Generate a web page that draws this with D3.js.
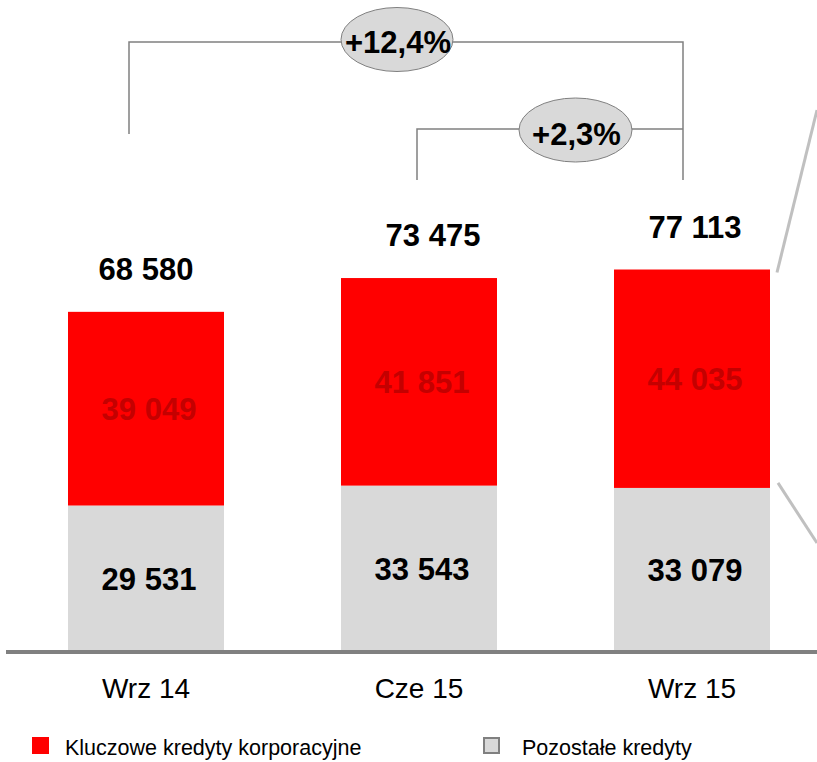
<!DOCTYPE html>
<html><head><meta charset="utf-8">
<script src="https://cdn.jsdelivr.net/npm/d3@7"></script>
<style>html,body{margin:0;padding:0;background:#fff}svg{display:block}</style>
</head><body>
<svg id="c" width="817" height="762"></svg>
<script>
const categories = ["Wrz 14", "Cze 15", "Wrz 15"];
const keyLoans = [39049, 41851, 44035];     // Kluczowe kredyty korporacyjne
const otherLoans = [29531, 33543, 33079];   // Pozostałe kredyty
const totals = [68580, 73475, 77113];
const seriesNames = ["Kluczowe kredyty korporacyjne", "Pozostałe kredyty"];
const growthLabels = ["+12,4%", "+2,3%"];

// label nudges (layout only)
const totalLabelDx = [0, 14, 3];

const fmt = v => d3.format(",")(v).replace(/,/g, " ");
const FONT = "Liberation Sans, Arial, sans-serif";

const svg = d3.select("#c");
const baseY = 652;
const x = d3.scaleBand().domain(categories).range([9.5, 828.5]).paddingInner(0.4286).paddingOuter(0.2143);
const y = d3.scaleLinear().domain([0, 131450]).range([baseY, 0]);

const rows = categories.map((c, i) => ({cat: c, other: otherLoans[i], key: keyLoans[i], total: totals[i]}));
const stack = d3.stack().keys(["other", "key"])(rows);
const colors = {other: "#d9d9d9", key: "#ff0000"};

// bars
svg.append("g").selectAll("g").data(stack).join("g")
  .attr("fill", s => colors[s.key])
  .selectAll("rect").data(s => s).join("rect")
  .attr("x", d => x(d.data.cat))
  .attr("width", x.bandwidth())
  .attr("y", d => y(d[1]))
  .attr("height", d => y(d[0]) - y(d[1]));

// segment labels
stack.forEach(s => {
  svg.append("g").selectAll("text").data(s).join("text")
    .attr("x", d => x(d.data.cat) + x.bandwidth() / 2 + 3)
    .attr("y", d => (y(d[0]) + y(d[1])) / 2 + 11)
    .attr("text-anchor", "middle")
    .attr("font-family", FONT).attr("font-weight", "bold").attr("font-size", 31)
    .attr("fill", s.key === "key" ? "#c40000" : "#000")
    .text(d => fmt(d.data[s.key]));
});

// totals
svg.append("g").selectAll("text").data(rows).join("text")
  .attr("x", (d, i) => x(d.cat) + x.bandwidth() / 2 + totalLabelDx[i])
  .attr("y", (d, i) => y(stack[1][i][1]) - 32)
  .attr("text-anchor", "middle")
  .attr("font-family", FONT).attr("font-weight", "bold").attr("font-size", 31)
  .attr("fill", "#000")
  .text(d => fmt(d.total));

// axis line
svg.append("line").attr("x1", 6).attr("x2", 817).attr("y1", baseY).attr("y2", baseY)
  .attr("stroke", "#808080").attr("stroke-width", 4);

// axis labels
const axis = svg.append("g").attr("transform", `translate(0,${baseY})`)
  .call(d3.axisBottom(x).tickSize(0).tickPadding(0));
axis.select(".domain").remove();
axis.selectAll("text").attr("font-family", FONT).attr("font-size", 28).attr("fill", "#000")
  .attr("dy", null).attr("y", 46);

// brackets
const cx = c => x(c) + x.bandwidth() / 2;
const gStroke = "#808080";
const bl = cx("Wrz 14") - 17, br = cx("Wrz 15") - 9, sl = cx("Cze 15") - 2;
svg.append("path").attr("fill", "none").attr("stroke", gStroke).attr("stroke-width", 1.5)
  .attr("d", `M${bl},134V42H${br}V180`);
svg.append("path").attr("fill", "none").attr("stroke", gStroke).attr("stroke-width", 1.5)
  .attr("d", `M${sl},180V129H${br}`);

const bubbles = [
  {label: growthLabels[0], cx: 397, cy: 39.5, rx: 56, ry: 32, ty: 53},
  {label: growthLabels[1], cx: 575.5, cy: 130, rx: 56.5, ry: 32, ty: 145}
];
bubbles.forEach(b => {
  svg.append("ellipse").attr("cx", b.cx).attr("cy", b.cy).attr("rx", b.rx).attr("ry", b.ry)
    .attr("fill", "#d9d9d9").attr("stroke", gStroke).attr("stroke-width", 1);
  svg.append("text").attr("x", b.cx + 1).attr("y", b.ty).attr("text-anchor", "middle")
    .attr("font-family", FONT).attr("font-weight", "bold").attr("font-size", 31).attr("fill", "#000")
    .text(b.label);
});

// right-side connector lines
const rEdge = x("Wrz 15") + x.bandwidth();
svg.append("line").attr("x1", rEdge + 7).attr("y1", y(stack[1][2][1]) + 3).attr("x2", 817).attr("y2", 110)
  .attr("stroke", "#c0c0c0").attr("stroke-width", 3);
svg.append("line").attr("x1", rEdge + 8).attr("y1", y(stack[0][2][1]) - 5).attr("x2", 817).attr("y2", 543)
  .attr("stroke", "#c0c0c0").attr("stroke-width", 3);

// legend
const legend = [
  {name: seriesNames[0], fill: "#ff0000", stroke: "none", x: 32},
  {name: seriesNames[1], fill: "#d9d9d9", stroke: "#808080", x: 483}
];
legend.forEach(l => {
  svg.append("rect").attr("x", l.stroke === "none" ? l.x : l.x + 1).attr("y", l.stroke === "none" ? 737 : 738)
    .attr("width", l.stroke === "none" ? 17 : 15).attr("height", l.stroke === "none" ? 17 : 15)
    .attr("fill", l.fill).attr("stroke", l.stroke).attr("stroke-width", 2);
  svg.append("text").attr("x", l.x + (l.stroke === "none" ? 33 : 39)).attr("y", 755)
    .attr("font-family", FONT).attr("font-size", 21.5).attr("fill", "#000").text(l.name);
});
</script>
</body></html>
